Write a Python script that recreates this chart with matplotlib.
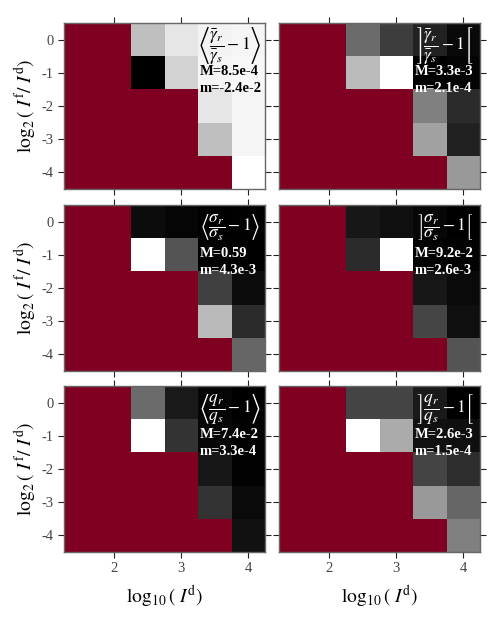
import numpy as np
import matplotlib
matplotlib.use("Agg")
import matplotlib.pyplot as plt

plt.rcParams['font.family'] = 'serif'
plt.rcParams['font.serif'] = ['Liberation Serif', 'DejaVu Serif']
plt.rcParams['mathtext.fontset'] = 'stix'

nan = np.nan
# x: log10(I^d) bin centres, y: log2(I^f/I^d) bin centres
x_centers = [1.5, 2.0, 2.5, 3.0, 3.5, 4.0]
y_centers = [0, -1, -2, -3, -4]

gamma_mean = [
    [nan, nan, -5.4e-3, -1.6e-3, -4.0e-4, -1.5e-4],
    [nan, nan, -2.4e-2, -3.6e-3, -1.5e-4, 1.0e-4],
    [nan, nan, nan, nan, -1.6e-3, -1.5e-4],
    [nan, nan, nan, nan, -5.4e-3, -1.5e-4],
    [nan, nan, nan, nan, nan, 8.5e-4],
]
gamma_spread = [
    [nan, nan, 1.51e-3, 9.5e-4, 6.1e-4, 3.3e-4],
    [nan, nan, 2.47e-3, 3.3e-3, 2.1e-4, 2.7e-4],
    [nan, nan, nan, nan, 1.76e-3, 7.4e-4],
    [nan, nan, nan, nan, 2.16e-3, 6.1e-4],
    [nan, nan, nan, nan, nan, 2.06e-3],
]
sigma_mean = [
    [nan, nan, 0.034, 0.016, 0.0043, 0.0072],
    [nan, nan, 0.59, 0.198, 0.010, 0.0050],
    [nan, nan, nan, nan, 0.151, 0.034],
    [nan, nan, nan, nan, 0.432, 0.104],
    [nan, nan, nan, nan, nan, 0.239],
]
sigma_spread = [
    [nan, nan, 0.0107, 0.0080, 0.0053, 0.0026],
    [nan, nan, 0.0178, 0.092, 0.0035, 0.0035],
    [nan, nan, nan, nan, 0.0107, 0.0062],
    [nan, nan, nan, nan, 0.0267, 0.0080],
    [nan, nan, nan, nan, nan, 0.0321],
]
q_mean = [
    [nan, nan, 0.0313, 0.0077, 0.0018, 0.00033],
    [nan, nan, 0.074, 0.0151, 0.0025, 0.0011],
    [nan, nan, nan, nan, 0.0070, 0.0011],
    [nan, nan, nan, nan, 0.0151, 0.0033],
    [nan, nan, nan, nan, nan, 0.0055],
]
q_spread = [
    [nan, nan, 8.1e-4, 8.1e-4, 4.0e-4, 1.5e-4],
    [nan, nan, 2.6e-3, 1.79e-3, 3.2e-4, 3.0e-4],
    [nan, nan, nan, nan, 8.1e-4, 5.9e-4],
    [nan, nan, nan, nan, 1.62e-3, 1.13e-3],
    [nan, nan, nan, nan, nan, 1.38e-3],
]

panel_data = [gamma_mean, gamma_spread, sigma_mean, sigma_spread, q_mean, q_spread]
panel_titles = [
    r'$\left\langle\dfrac{\bar{\gamma}_r}{\bar{\gamma}_s}-1\right\rangle$',
    r'$\left]\dfrac{\bar{\gamma}_r}{\bar{\gamma}_s}-1\right[$',
    r'$\left\langle\dfrac{\sigma_r}{\sigma_s}-1\right\rangle$',
    r'$\left]\dfrac{\sigma_r}{\sigma_s}-1\right[$',
    r'$\left\langle\dfrac{q_r}{q_s}-1\right\rangle$',
    r'$\left]\dfrac{q_r}{q_s}-1\right[$',
]
max_labels = ['M=8.5e-4', 'M=3.3e-3', 'M=0.59', 'M=9.2e-2', 'M=7.4e-2', 'M=2.6e-3']
min_labels = ['m=-2.4e-2', 'm=2.1e-4', 'm=4.3e-3', 'm=2.6e-3', 'm=3.3e-4', 'm=1.5e-4']
text_colors = ['black', 'white', 'white', 'white', 'white', 'white']

W, H = 498, 618
fig = plt.figure(figsize=(W / 100, H / 100), dpi=100)

col_left = [64 / W, 279 / W]
ax_w = 201 / W
row_bottom = [1 - 189 / H, 1 - 371 / H, 1 - 552 / H]
ax_h = 166 / H

cmap = plt.get_cmap('gray').copy()
cmap.set_bad('#7f0020')

xc = np.array(x_centers)
yc = np.array(y_centers, dtype=float)
x_edges = np.concatenate([xc - 0.25, [xc[-1] + 0.25]])
y_edges = np.concatenate([yc + 0.5, [yc[-1] - 0.5]])

for i, data in enumerate(panel_data):
    r, c = divmod(i, 2)
    ax = fig.add_axes([col_left[c], row_bottom[r], ax_w, ax_h])
    arr = np.ma.masked_invalid(np.array(data, dtype=float))
    ax.pcolormesh(x_edges, y_edges, arr, cmap=cmap,
                  vmin=arr.min(), vmax=arr.max(), shading='flat')
    ax.set_xlim(1.25, 4.25)
    ax.set_ylim(-4.5, 0.5)
    ax.set_xticks([2, 3, 4])
    ax.set_yticks([0, -1, -2, -3, -4])
    ax.set_yticklabels(['0', '-1', '-2', '-3', '-4'])
    ax.tick_params(direction='out', length=4, width=0.8, top=True, right=True,
                   labelsize=10.5, labelcolor='#444444', color='#222222')
    for s in ax.spines.values():
        s.set_color('#666666')
        s.set_linewidth(1.0)
    if c == 1:
        ax.tick_params(labelleft=False)
    else:
        ax.set_ylabel(r'$\log_2(\ I^{\rm f}/\ I^{\rm d})$', fontsize=14, labelpad=2)
    if r < 2:
        ax.tick_params(labelbottom=False)
    else:
        ax.set_xlabel(r'$\log_{10}(\ I^{\rm d})$', fontsize=14, labelpad=6)

    tc = text_colors[i]
    ax.text(3.73, -0.19, panel_titles[i], ha='center', va='center',
            fontsize=12.5, color=tc)
    ax.text(3.27, -0.97, max_labels[i], ha='left', va='center',
            fontsize=10.5, fontweight='bold', color=tc)
    ax.text(3.27, -1.47, min_labels[i], ha='left', va='center',
            fontsize=10.5, fontweight='bold', color=tc)

fig.savefig('out.png', dpi=100)
